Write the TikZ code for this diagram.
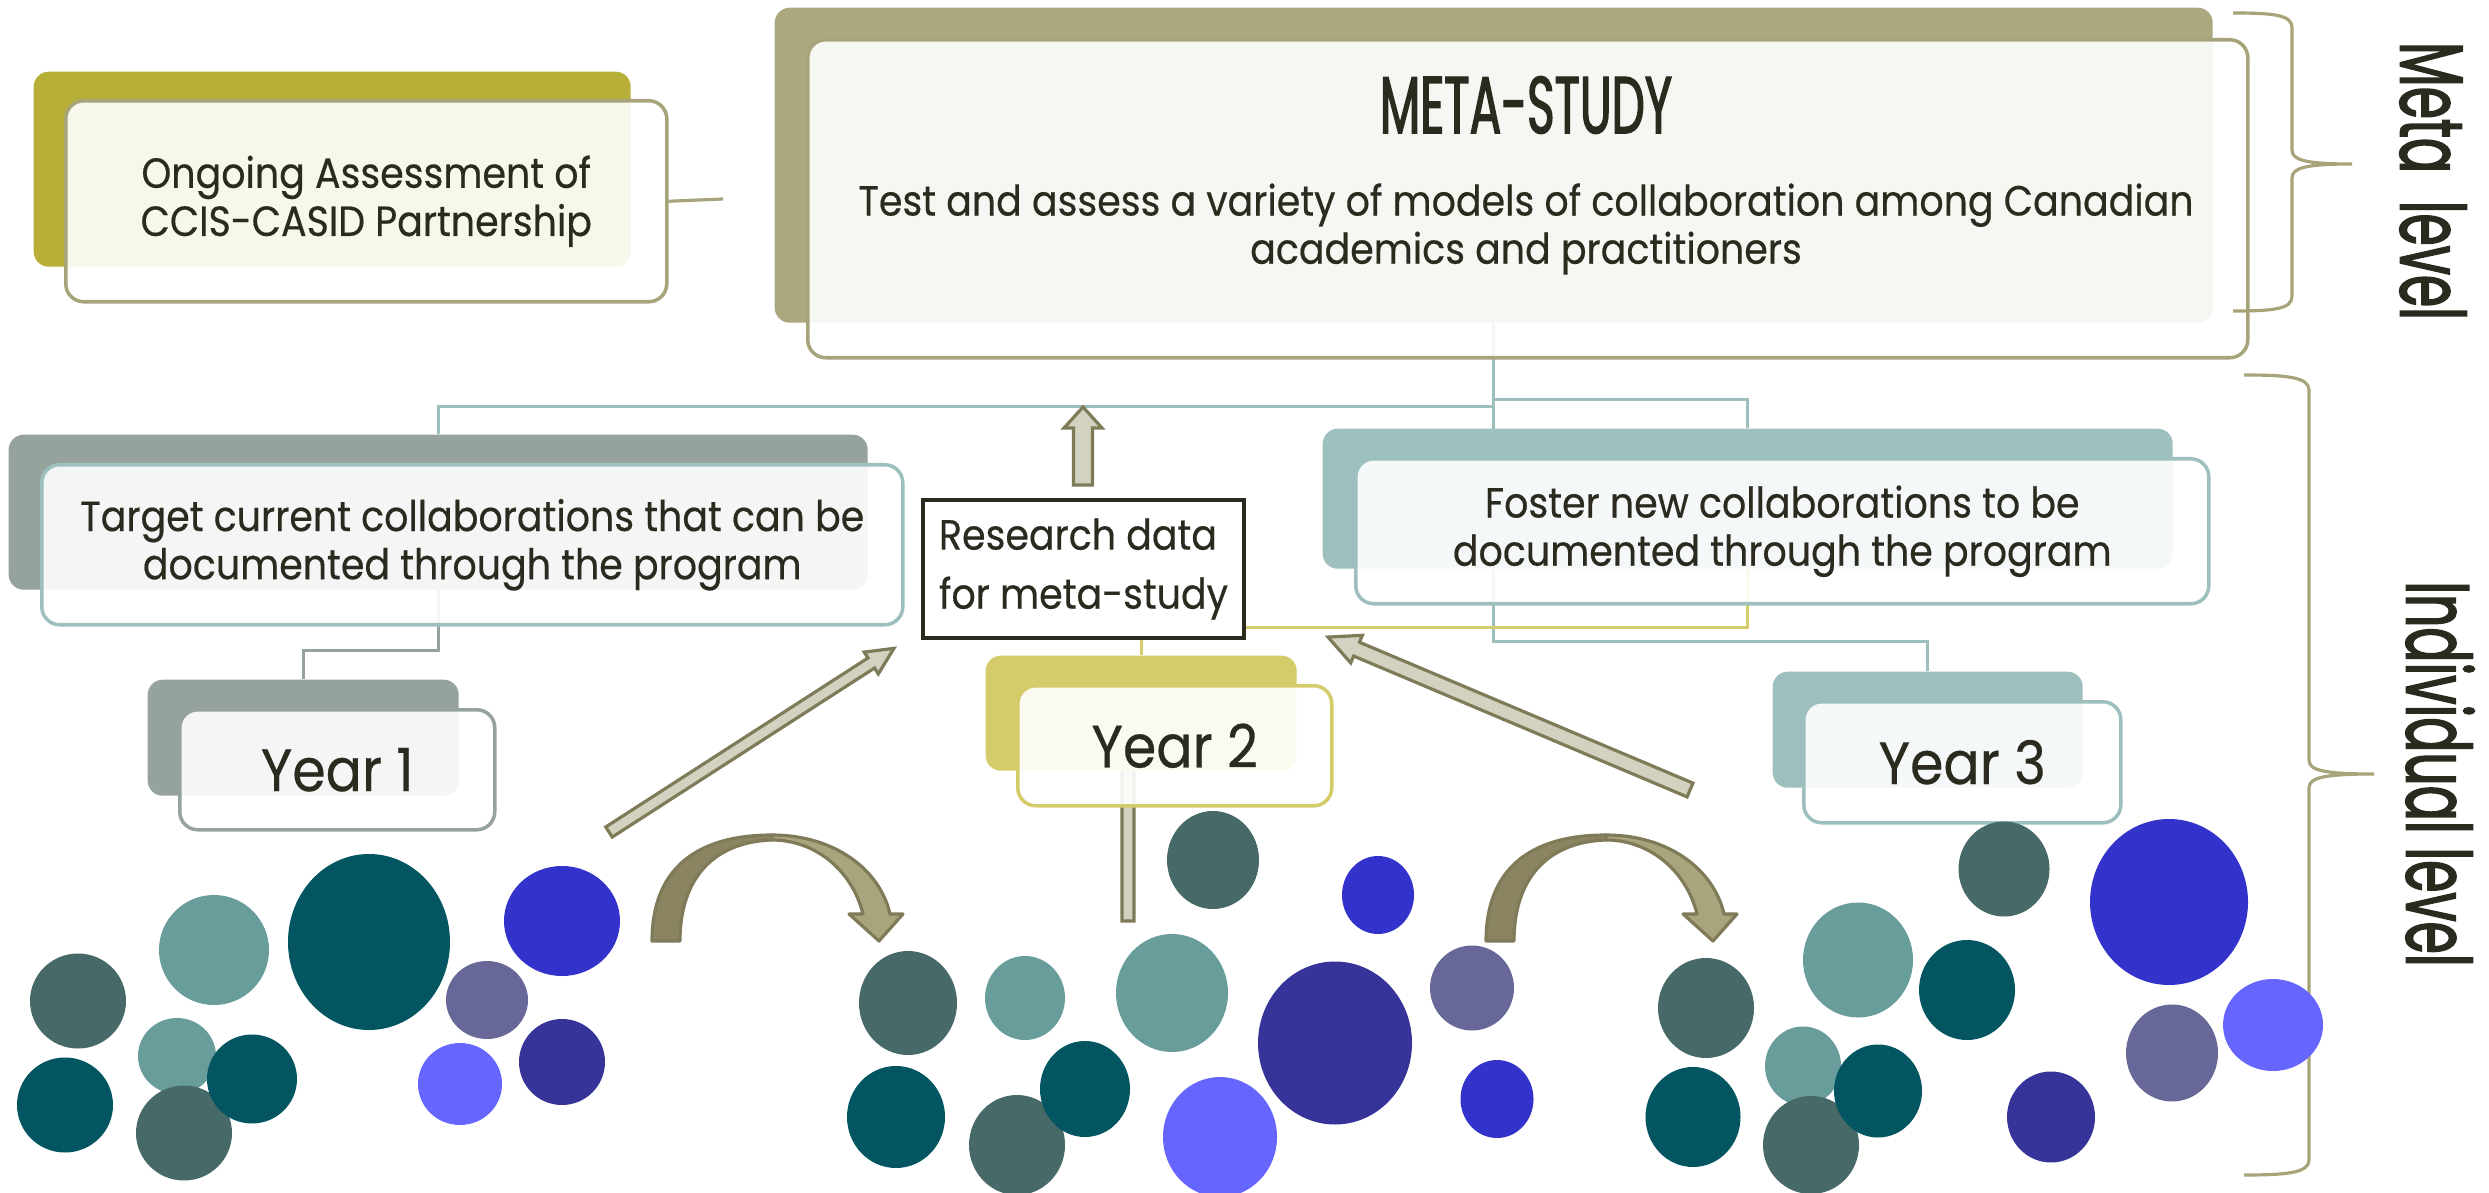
\documentclass[tikz,border=0pt]{standalone}
\usepackage{fontspec}
\setmainfont{Poppins}[FakeStretch=0.9, FakeBold=0.4]
\newfontfamily\condfont{Poppins}[FakeStretch=0.58, FakeBold=1.6]
\usetikzlibrary{positioning, backgrounds}

\definecolor{ink}{HTML}{2B2A1F}
\definecolor{olivebk}{HTML}{B8AF38}
\definecolor{khaki}{HTML}{ABA77F}
\definecolor{khakiedge}{HTML}{A8A47A}
\definecolor{sage}{HTML}{95A39C}
\definecolor{seafoam}{HTML}{9DBFBE}
\definecolor{mustard}{HTML}{D4CC6A}
\definecolor{arrowfill}{HTML}{D3D1BF}
\definecolor{arrowline}{HTML}{7F7A57}
\definecolor{benddark}{HTML}{8A8462}
\definecolor{bendlight}{HTML}{A8A47C}
\definecolor{slate}{HTML}{476967}
\definecolor{lteal}{HTML}{699D9B}
\definecolor{dteal}{HTML}{025561}
\definecolor{mauve}{HTML}{686898}
\definecolor{lblue}{HTML}{6666FF}
\definecolor{midblue}{HTML}{3333CC}
\definecolor{indigo}{HTML}{363499}

\newcommand{\bodyfont}{\fontsize{12}{13.7}\selectfont}
\newcommand{\yearfont}{\fontsize{17}{19}\selectfont}
\newcommand{\levelfont}{\condfont\fontsize{25.5}{28}\selectfont}

\tikzstyle{backbox} = [rectangle, rounded corners=0.15cm, inner sep=0pt, anchor=north west]
\tikzstyle{frontbox} = [rectangle, rounded corners=0.18cm, line width=1pt, fill=white, fill opacity=0.9, text opacity=1, text=ink, align=center, inner sep=0pt, anchor=north west, font=\bodyfont]
\tikzstyle{databox} = [rectangle, draw=ink, line width=1.1pt, fill=white, text=ink, align=left, inner sep=0pt, font=\fontsize{12}{16.8}\selectfont]
\tikzstyle{tealline} = [draw=seafoam, line width=0.9pt]
\tikzstyle{sageline} = [draw=sage, line width=0.9pt]
\tikzstyle{mustardline} = [draw=mustard, line width=0.9pt]
\tikzstyle{linkline} = [draw=khakiedge, line width=0.9pt]
\tikzstyle{blockarrow} = [fill=arrowfill, draw=arrowline, line width=0.9pt]
\tikzstyle{bendarrow} = [draw=arrowline, line width=0.9pt, line join=round]
\tikzstyle{bracket} = [draw=khakiedge, line width=0.9pt]

\begin{document}
\begin{tikzpicture}
\useasboundingbox (0,0) rectangle (24.89,-11.93);

% Boxes
\node (metabk) [backbox, fill=khaki, minimum width=14.38cm, minimum height=3.15cm] at (7.74,-0.07) {};
\node (metafr) [frontbox, draw=khakiedge, minimum width=14.40cm, minimum height=3.18cm] at ([xshift=0.32cm, yshift=-0.31cm]metabk.north west) {};
\node (metatitle) [font=\condfont\fontsize{23}{26}\selectfont, text=ink] at (15.26,-1.05) {META-STUDY};
\node (metatext) [font=\bodyfont, text=ink, align=center] at (15.26,-2.29) {Test and assess a variety of models of collaboration among Canadian\\academics and practitioners};

\node (ongbk) [backbox, fill=olivebk, minimum width=5.97cm, minimum height=1.95cm] at (0.33,-0.71) {};
\node (ongfr) [frontbox, draw=khakiedge, minimum width=6.01cm, minimum height=2.01cm] at ([xshift=0.31cm, yshift=-0.28cm]ongbk.north west) {Ongoing Assessment of\\CCIS-CASID Partnership};
\coordinate (ongend) at (7.23,-1.99);

\node (tgtbk) [backbox, fill=sage, minimum width=8.59cm, minimum height=1.55cm] at (0.08,-4.34) {};
\node (tgtfr) [frontbox, draw=seafoam, minimum width=8.61cm, minimum height=1.60cm] at ([xshift=0.32cm, yshift=-0.29cm]tgtbk.north west) {Target current collaborations that can be\\documented through the program};

\node (fosbk) [backbox, fill=seafoam, minimum width=8.50cm, minimum height=1.40cm] at (13.22,-4.28) {};
\node (fosfr) [frontbox, draw=seafoam, minimum width=8.53cm, minimum height=1.45cm] at ([xshift=0.32cm, yshift=-0.29cm]fosbk.north west) {Foster new collaborations to be\\documented through the program};

\node (yr1bk) [backbox, fill=sage, minimum width=3.11cm, minimum height=1.16cm] at (1.47,-6.79) {};
\node (yr1fr) [frontbox, draw=sage, font=\yearfont, minimum width=3.15cm, minimum height=1.20cm] at ([xshift=0.31cm, yshift=-0.29cm]yr1bk.north west) {Year 1};

\node (yr2bk) [backbox, fill=mustard, minimum width=3.11cm, minimum height=1.15cm] at (9.85,-6.55) {};
\node (yr2fr) [frontbox, draw=mustard, font=\yearfont, minimum width=3.14cm, minimum height=1.20cm] at ([xshift=0.31cm, yshift=-0.29cm]yr2bk.north west) {Year 2};

\node (yr3bk) [backbox, fill=seafoam, minimum width=3.10cm, minimum height=1.16cm] at (17.72,-6.71) {};
\node (yr3fr) [frontbox, draw=seafoam, font=\yearfont, minimum width=3.17cm, minimum height=1.21cm] at ([xshift=0.30cm, yshift=-0.29cm]yr3bk.north west) {Year 3};

\node (research) [databox, minimum width=3.21cm, minimum height=1.38cm] at (10.835,-5.69) {Research data\\for meta-study};

% Connectors (behind the boxes)
\begin{scope}[on background layer]
\fill[white] (0,0) rectangle (24.89,-11.93);
\draw[tealline] (metabk.south) -- ++(0,-3.18) -| (yr3bk.north);
\draw[tealline] (metabk.south) ++(0,-0.83) -| (tgtbk.north);
\draw[tealline] (metabk.south) ++(0,-0.76) -| (fosbk.north);
\draw[sageline] (tgtbk.south) -- ++(0,-0.60) -| (yr1bk.north);
\draw[mustardline] (fosbk.south) -- ++(0,-0.58) -| (yr2bk.north);
\draw[blockarrow] (11.22,-9.21) -- (11.22,-7.25) -- (11.10,-7.25) -- (11.28,-6.95) -- (11.46,-7.25) -- (11.34,-7.25) -- (11.34,-9.21) -- cycle;
\end{scope}
\draw[linkline] (ongfr.east) -- (ongend);

% Block arrows
\draw[blockarrow] (10.735,-4.85) -- (10.735,-4.28) -- (10.64,-4.28) -- (10.83,-4.07) -- (11.02,-4.28) -- (10.925,-4.28) -- (10.925,-4.85) -- cycle;
\draw[blockarrow, shift={(6.09,-8.32)}, rotate=32.8] (0,-0.06) -- (3.12,-0.06) -- (3.12,-0.13) -- (3.39,0) -- (3.12,0.13) -- (3.12,0.06) -- (0,0.06) -- cycle;
\draw[blockarrow, shift={(16.90,-7.90)}, rotate=157.1] (0,-0.075) -- (3.62,-0.075) -- (3.62,-0.15) -- (3.93,0) -- (3.62,0.15) -- (3.62,0.075) -- (0,0.075) -- cycle;

% Curved arrows
\foreach \dx in {0,8.34} {
  \begin{scope}[xshift=\dx cm]
    \draw[bendarrow, fill=benddark] (6.52,-9.41) .. controls (6.52,-8.70) and (6.95,-8.35) .. (7.72,-8.35) -- (7.72,-8.40) .. controls (7.12,-8.42) and (6.80,-8.80) .. (6.80,-9.41) -- cycle;
    \draw[bendarrow, fill=bendlight] (7.72,-8.35) .. controls (8.35,-8.35) and (8.80,-8.70) .. (8.90,-9.14) -- (9.03,-9.14) -- (8.79,-9.41) -- (8.49,-9.14) -- (8.63,-9.14) .. controls (8.52,-8.70) and (8.15,-8.40) .. (7.72,-8.40) -- cycle;
  \end{scope}
}

% Brackets
\draw[bracket] (22.33,-0.13) .. controls (22.75,-0.13) and (22.92,-0.15) .. (22.92,-0.28) -- (22.92,-1.50) .. controls (22.92,-1.60) and (23.05,-1.64) .. (23.52,-1.64) .. controls (23.05,-1.64) and (22.92,-1.68) .. (22.92,-1.78) -- (22.92,-2.96) .. controls (22.92,-3.09) and (22.75,-3.11) .. (22.33,-3.11);
\draw[bracket] (22.44,-3.75) .. controls (22.86,-3.75) and (23.09,-3.77) .. (23.09,-3.90) -- (23.09,-7.60) .. controls (23.09,-7.70) and (23.22,-7.74) .. (23.74,-7.74) .. controls (23.22,-7.74) and (23.09,-7.78) .. (23.09,-7.88) -- (23.09,-11.60) .. controls (23.09,-11.73) and (22.86,-11.75) .. (22.44,-11.75);
\node (metalvl) [rotate=-90, font=\levelfont, text=ink] at (24.33,-1.81) {Meta\ \ level};
\node (indlvl) [rotate=-90, font=\levelfont, text=ink] at (24.40,-7.74) {Individual level};

% Circles
\foreach \px/\py/\rx/\ry/\cc in {
  1.77/-10.56/0.39/0.38/lteal, 1.84/-11.33/0.48/0.475/slate, 2.52/-10.79/0.45/0.445/dteal,
  0.78/-10.01/0.48/0.475/slate, 2.14/-9.50/0.55/0.55/lteal, 3.69/-9.42/0.81/0.88/dteal,
  0.65/-11.05/0.48/0.475/dteal, 4.87/-10.00/0.41/0.39/mauve, 4.60/-10.84/0.42/0.41/lblue,
  5.62/-9.21/0.58/0.55/midblue, 5.62/-10.62/0.43/0.43/indigo,
  9.08/-10.03/0.49/0.52/slate, 8.96/-11.17/0.49/0.51/dteal, 10.25/-9.98/0.40/0.42/lteal,
  10.17/-11.45/0.48/0.50/slate, 10.85/-10.89/0.45/0.48/dteal, 12.13/-8.60/0.46/0.49/slate,
  13.78/-8.95/0.36/0.39/midblue, 11.72/-9.93/0.56/0.59/lteal, 12.20/-11.37/0.57/0.60/lblue,
  13.35/-10.43/0.77/0.815/indigo, 14.72/-9.88/0.42/0.425/mauve, 14.97/-10.99/0.365/0.39/midblue,
  17.06/-10.08/0.48/0.50/slate, 16.93/-11.17/0.475/0.50/dteal, 18.58/-9.60/0.55/0.575/lteal,
  20.04/-8.69/0.455/0.475/slate, 19.67/-9.90/0.48/0.50/dteal, 18.03/-10.66/0.38/0.395/lteal,
  18.11/-11.45/0.48/0.49/slate, 18.78/-10.91/0.44/0.465/dteal, 20.51/-11.17/0.44/0.455/indigo,
  21.69/-9.02/0.79/0.83/midblue, 21.72/-10.53/0.46/0.485/mauve, 22.73/-10.25/0.50/0.46/lblue}
  \fill[\cc] (\px,\py) ellipse [x radius=\rx, y radius=\ry];

\end{tikzpicture}
\end{document}
